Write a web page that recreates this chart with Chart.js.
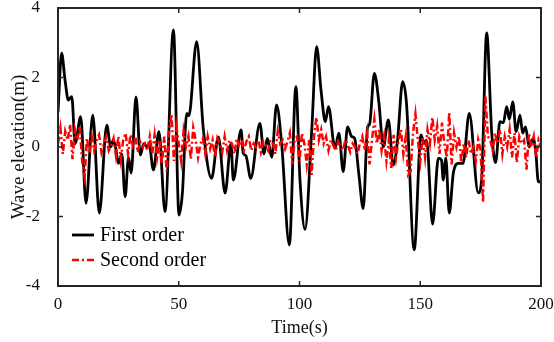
<!DOCTYPE html>
<html>
<head>
<meta charset="utf-8">
<script src="https://cdn.jsdelivr.net/npm/chart.js@4/dist/chart.umd.min.js"></script>
<style>
  html, body { margin: 0; padding: 0; background: #fff; }
  #wrap { width: 554px; height: 342px; position: relative; }
</style>
</head>
<body>
<div id="wrap"><canvas id="myChart"></canvas></div>
<script>
// DATA

const firstTime = [0, 1.5, 2.9, 4.3, 5.7, 7.1, 9.4, 11.6, 14.4, 17.1, 20.2, 21.8, 22.9, 23.8, 25, 26.4, 27.8, 29.2, 30.3, 32.3,
  34.1, 35.5, 36.9, 37.7, 39.5, 41.8, 44.3, 47.8, 50.1, 51.5, 53.3, 54.2, 57.4, 60.2, 63.6, 66.4, 69.2, 71.6, 72.6, 75.8,
  76.7, 77.8, 79.8, 83.6, 85.3, 86.7, 88.5, 90.5, 92.6, 95.8, 98.5, 100.2, 102.3, 105, 107.1, 108.9, 110.7, 112, 114.7, 116.3,
  118.1, 119.9, 121.6, 122.8, 124.6, 126.4, 128.2, 129, 131, 132.9, 134.7, 136.8, 138.8, 140.6, 142.7, 144.3, 147.5, 150.3, 151.6, 152.6,
  155.1, 157.5, 158.8, 159.5, 160.6, 162, 163.7, 165.7, 167.7, 170.3, 174, 175.4, 177.5, 179.6, 181.2, 183, 184.4, 185.8, 186.9, 188.3,
  189.7, 191.3, 192.4, 193.6, 195.1, 196.8, 197.9, 198.9, 200];
const firstOrder = [1.0, 2.7, 1.93, 1.35, 1.45, 0.1, 0.87, -1.62, 0.92, -1.9, 0.63, 0, 0.2, 0.0, -0.47, -0.2, -1.43, -0.3, -0.75, 1.44,
  -0.23, 0.1, 0, 0.1, -0.66, 0.44, -1.86, 3.37, -1.96, -1.33, 0.97, 0.9, 3.03, 0.49, -0.9, 0.29, -1.33, 0.1, -0.95, 0.49,
  -0.18, -0.25, -0.9, 0.68, -0.2, 0.25, -0.3, 1.21, 0.1, -2.82, 1.74, -0.95, -2.37, 0.4, 2.89, 1.64, 0.73, 1.16, -0.04, 0.4,
  -0.71, 0.58, 0.3, 0.25, -0.8, -1.77, 0.58, 0.65, 2.12, 1.26, 0, 0.78, -0.52, 0.2, 1.88, 1.26, -2.96, 0.35, 0.1, 0.2,
  -2.22, -0.32, -0.38, -0.95, -0.32, -1.9, -0.75, -0.47, -0.47, 0.97, -1.32, -0.95, 3.28, 0.4, -0.45, 0.73, 0.7, 1.16, 0.8, 1.3,
  0.44, 0.92, 0.4, 0.58, 0, 0.25, -0.2, -1.0, -1.0];

// second order sampled every 1 s, t = 0..200
const secondOrder = [
  0.1, 0.55, -0.2, 0.45, 0.2, 0.65, -0.35, 0.5, 0.2, 0.6,
  -0.4, -0.85, 0.25, -0.2, 0.3, -0.1, 0.2, 0.35, -0.15, 0.1,
  0.3, -0.1, 0.05, 0.25, -0.25, 0.3, -0.35, 0.2, 0.4, -0.2,
  0.35, 0.05, 0.3, -0.15, 0.15, 0.0, 0.1, -0.1, 0.3, -0.2,
  0.35, -0.3, 0.2, -0.5, 0.3, -0.7, 0.5, 0.95, -0.4, 0.6,
  0.1, -0.4, 0.45, 0.0, 0.3, -0.35, 0.55, 0.2, -0.3, 0.1,
  0.25, -0.2, 0.3, -0.05, 0.2, -0.3, 0.25, 0.1, -0.15, 0.3,
  -0.1, 0.2, 0.1, -0.2, 0.25, 0.0, 0.2, -0.1, 0.15, 0.3,
  -0.1, 0.1, 0.0, 0.2, -0.15, 0.15, 0.05, -0.1, 0.2, 0.1,
  -0.2, 0.45, 0.1, 0.2, -0.05, 0.15, 0.4, -0.5, 0.2, 0.3,
  -0.4, 0.4, 0.1, -0.5, 0.2, -0.8, 0.3, 0.85, 0.2, 0.5,
  0.1, 0.3, -0.1, 0.2, 0.05, -0.1, 0.15, 0.0, -0.1, 0.2,
  0.05, -0.15, 0.1, 0.0, -0.2, 0.1, 0.3, -0.1, 0.4, -0.5,
  0.2, 0.8, 0.1, 0.5, -0.1, 0.3, -0.4, 0.2, -0.6, 0.35,
  -0.3, 0.2, 0.5, -0.2, 0.3, -0.8, -0.7, 0.4, 0.95, 0.2,
  -0.4, 0.3, -0.3, 0.5, 0.1, 0.85, 0.2, 0.6, -0.2, 0.7,
  0.1, -0.3, 1.0, -0.5, 0.4, 0.0, 0.3, -0.45, 0.1, -0.3,
  0.2, -0.2, 0.0, -0.4, 0.2, -0.1, -1.6, 1.45, 0.3, 0.2,
  -0.1, 0.4, 0.1, 0.5, -0.2, 0.3, 0.0, 0.5, -0.3, 0.4,
  -0.45, 0.3, 0.1, 0.2, -0.65, 0.4, 0.0, 0.3, -0.3, 0.2,
  0.0];

const xTicks = [0, 50, 100, 150, 200];
const yTicks = [-4, -2, 0, 2, 4];
const seriesNames = ['First order', 'Second order'];

const FONT = '"Liberation Serif", "Times New Roman", serif';

// PLUGINS

// box frame + inward ticks on all four sides
const framePlugin = {
  id: 'frame',
  afterDatasetsDraw(chart) {
    const { ctx, chartArea: a, scales } = chart;
    ctx.save();
    ctx.strokeStyle = '#262626';
    ctx.lineWidth = 2;
    ctx.strokeRect(a.left, a.top, a.right - a.left, a.bottom - a.top);
    ctx.lineWidth = 1.5;
    ctx.beginPath();
    xTicks.forEach(function (t) {
      const x = scales.x.getPixelForValue(t);
      ctx.moveTo(x, a.bottom); ctx.lineTo(x, a.bottom - 5);
      ctx.moveTo(x, a.top); ctx.lineTo(x, a.top + 5);
    });
    yTicks.forEach(function (t) {
      const y = scales.y.getPixelForValue(t);
      ctx.moveTo(a.left, y); ctx.lineTo(a.left + 5, y);
      ctx.moveTo(a.right, y); ctx.lineTo(a.right - 5, y);
    });
    ctx.stroke();
    ctx.restore();
  }
};

// legend drawn inside the plot, lower left
const legendPlugin = {
  id: 'innerLegend',
  afterDatasetsDraw(chart) {
    const { ctx, chartArea: a } = chart;
    ctx.save();
    ctx.font = '20px ' + FONT;
    ctx.textBaseline = 'middle';
    chart.data.datasets.forEach(function (ds, i) {
      const y = 235 + i * 25;
      ctx.strokeStyle = ds.borderColor;
      ctx.lineWidth = ds.borderWidth;
      ctx.setLineDash(ds.borderDash || []);
      ctx.beginPath();
      ctx.moveTo(a.left + 14, y);
      ctx.lineTo(a.left + 36, y);
      ctx.stroke();
      ctx.setLineDash([]);
      ctx.fillStyle = '#000';
      ctx.fillText(ds.label, a.left + 42, y + 1);
    });
    ctx.restore();
  }
};

// CHART

var ctx = document.getElementById('myChart').getContext('2d');

var chart = new Chart(ctx, {
  type: 'line',
  data: {
    datasets: [
      {
        label: seriesNames[0],
        data: firstTime.map(function (t, i) { return { x: t, y: firstOrder[i] }; }),
        borderColor: '#000000',
        borderWidth: 2.8,
        cubicInterpolationMode: 'monotone',
        pointRadius: 0,
        order: 1,
      },
      {
        label: seriesNames[1],
        data: secondOrder.map(function (v, i) { return { x: i, y: v }; }),
        borderColor: '#ff0000',
        borderWidth: 2.5,
        borderDash: [7, 3, 2, 3],
        tension: 0,
        pointRadius: 0,
        order: 0,
      },
    ],
  },
  options: {
    responsive: true,
    maintainAspectRatio: false,
    animation: false,
    layout: { padding: { top: 8, right: 13, left: 0, bottom: 0 } },
    plugins: { legend: { display: false }, tooltip: { enabled: false } },
    scales: {
      x: {
        type: 'linear',
        min: 0,
        max: 200,
        afterBuildTicks: function (s) { s.ticks = xTicks.map(function (v) { return { value: v }; }); },
        grid: { display: false },
        border: { display: false },
        ticks: { color: '#111', font: { family: FONT, size: 17 }, padding: 0, maxRotation: 0 },
        title: { display: true, text: 'Time(s)', color: '#111', font: { family: FONT, size: 18 }, padding: { top: 0, bottom: 3 } },
        afterFit: function (s) { s.height = 56; s.paddingLeft = 0; s.paddingRight = 0; },
      },
      y: {
        min: -4,
        max: 4,
        afterBuildTicks: function (s) { s.ticks = yTicks.map(function (v) { return { value: v }; }); },
        grid: { display: false },
        border: { display: false },
        ticks: { color: '#111', font: { family: FONT, size: 17 }, padding: 10 },
        title: { display: true, text: 'Wave elevation(m)', color: '#111', font: { family: FONT, size: 19 }, padding: { top: 8, bottom: 0 } },
        afterFit: function (s) { s.width = 58; s.paddingTop = 0; s.paddingBottom = 0; },
      },
    },
  },
  plugins: [framePlugin, legendPlugin],
});
</script>
</body>
</html>
